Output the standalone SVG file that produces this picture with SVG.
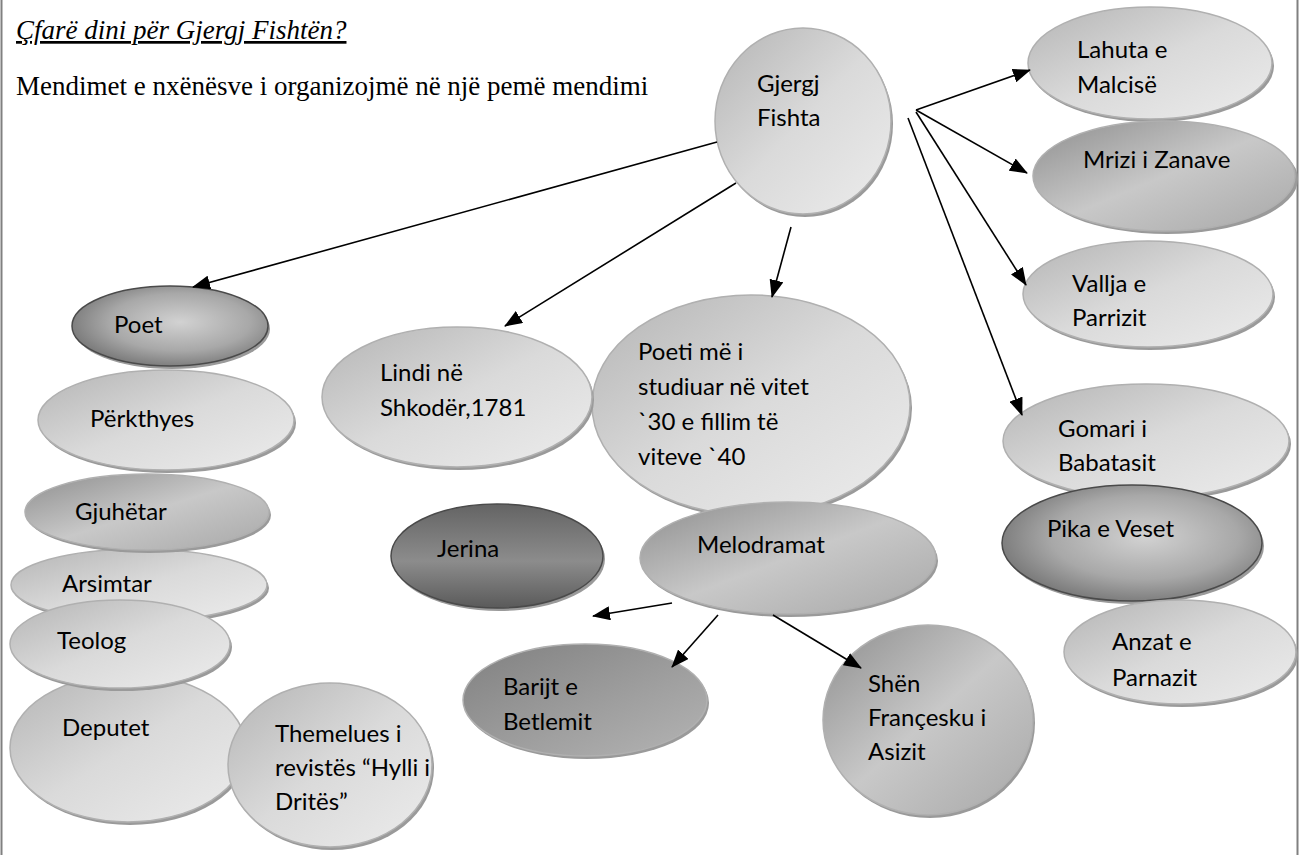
<svg xmlns="http://www.w3.org/2000/svg" width="1299" height="855" viewBox="0 0 1299 855">
<style>
.hd{font-family:"Liberation Serif","Times New Roman",serif;font-size:27px;fill:#000}
.lb{font-family:Lato,"Liberation Sans",sans-serif;font-size:24px;fill:#000}
.sh{fill:#9a9a9a}
.el{stroke:#b0b0b0;stroke-width:1.5}
.dk{stroke:#4a4a4a;stroke-width:1.5}
.cn{stroke:#000;stroke-width:1.6;fill:none;marker-end:url(#ah)}
</style>
<defs>
<linearGradient id="gL" x1="0" y1="0" x2="1" y2="1">
<stop offset="0" stop-color="#b4b4b4"/><stop offset="0.5" stop-color="#dadada"/><stop offset="1" stop-color="#ececec"/>
</linearGradient>
<linearGradient id="gM" x1="0" y1="0" x2="1" y2="1">
<stop offset="0" stop-color="#8e8e8e"/><stop offset="0.5" stop-color="#c8c8c8"/><stop offset="1" stop-color="#a8a8a8"/>
</linearGradient>
<linearGradient id="gB" x1="0" y1="0" x2="1" y2="1">
<stop offset="0" stop-color="#808080"/><stop offset="0.6" stop-color="#a0a0a0"/><stop offset="1" stop-color="#b4b4b4"/>
</linearGradient>
<linearGradient id="gJ" x1="0" y1="0" x2="0" y2="1">
<stop offset="0" stop-color="#646464"/><stop offset="0.55" stop-color="#8c8c8c"/><stop offset="1" stop-color="#5a5a5a"/>
</linearGradient>
<radialGradient id="gR" cx="0.55" cy="0.45" r="0.6">
<stop offset="0" stop-color="#d2d2d2"/><stop offset="0.6" stop-color="#a8a8a8"/><stop offset="1" stop-color="#747474"/>
</radialGradient>
<marker id="ah" markerUnits="userSpaceOnUse" markerWidth="18" markerHeight="14" refX="17" refY="7" orient="auto">
<path d="M0,0 L18,7 L0,14 z" fill="#000"/>
</marker>
</defs>
<rect x="0" y="0" width="1299" height="855" fill="#fff"/>
<line x1="1.5" y1="0" x2="1.5" y2="855" stroke="#808080" stroke-width="2"/>
<line x1="1297.5" y1="0" x2="1297.5" y2="855" stroke="#808080" stroke-width="2"/>

<g id="title">
<text class="hd" x="16" y="39" font-style="italic" text-decoration="underline">Çfarë dini për Gjergj Fishtën?</text>
<text class="hd" x="16" y="95">Mendimet e nxënësve i organizojmë në një pemë mendimi</text>
</g>

<g id="n-gjergj">
<ellipse class="sh" cx="805" cy="124" rx="88" ry="93"/>
<ellipse class="el" cx="803" cy="121" rx="88" ry="93" fill="url(#gL)"/>
<text class="lb" x="757" y="92">Gjergj</text>
<text class="lb" x="757" y="126">Fishta</text>
</g>

<g id="n-lahuta">
<ellipse class="sh" cx="1152" cy="66" rx="122" ry="56"/>
<ellipse class="el" cx="1150" cy="63" rx="122" ry="56" fill="url(#gL)"/>
<text class="lb" x="1077" y="58">Lahuta e</text>
<text class="lb" x="1077" y="93">Malcisë</text>
</g>

<g id="n-mrizi">
<ellipse class="sh" cx="1167" cy="179" rx="131" ry="55"/>
<ellipse class="el" cx="1164" cy="176" rx="131" ry="55" fill="url(#gM)"/>
<text class="lb" x="1083" y="168">Mrizi i Zanave</text>
</g>

<g id="n-vallja">
<ellipse class="sh" cx="1150" cy="297" rx="125" ry="53"/>
<ellipse class="el" cx="1148" cy="294" rx="125" ry="53" fill="url(#gL)"/>
<text class="lb" x="1072" y="292">Vallja e</text>
<text class="lb" x="1072" y="326">Parrizit</text>
</g>

<g id="n-gomari">
<ellipse class="sh" cx="1148" cy="444" rx="143" ry="57"/>
<ellipse class="el" cx="1146" cy="441" rx="143" ry="57" fill="url(#gL)"/>
<text class="lb" x="1058" y="437">Gomari i</text>
<text class="lb" x="1058" y="471">Babatasit</text>
</g>

<g id="n-pika">
<ellipse class="sh" cx="1134" cy="546" rx="130" ry="58"/>
<ellipse class="dk" cx="1132" cy="543" rx="130" ry="58" fill="url(#gR)"/>
<text class="lb" x="1047" y="537">Pika e Veset</text>
</g>

<g id="n-anzat">
<ellipse class="sh" cx="1182" cy="655" rx="116" ry="52"/>
<ellipse class="el" cx="1180" cy="652" rx="116" ry="52" fill="url(#gL)"/>
<text class="lb" x="1112" y="650">Anzat e</text>
<text class="lb" x="1112" y="686">Parnazit</text>
</g>

<g id="n-poet">
<ellipse class="sh" cx="172" cy="329" rx="98" ry="40"/>
<ellipse class="dk" cx="170" cy="326" rx="98" ry="40" fill="url(#gR)"/>
<text class="lb" x="114" y="333">Poet</text>
</g>

<g id="n-perkthyes">
<ellipse class="sh" cx="168" cy="423" rx="128" ry="50"/>
<ellipse class="el" cx="166" cy="420" rx="128" ry="50" fill="url(#gL)"/>
<text class="lb" x="90" y="427">Përkthyes</text>
</g>

<g id="n-arsimtar">
<ellipse class="sh" cx="141" cy="588" rx="128" ry="36"/>
<ellipse class="el" cx="139" cy="585" rx="128" ry="36" fill="url(#gL)"/>
<text class="lb" x="62" y="592">Arsimtar</text>
</g>

<g id="n-gjuhetar">
<ellipse class="sh" cx="149" cy="515" rx="122" ry="38"/>
<ellipse class="el" cx="147" cy="512" rx="122" ry="38" fill="url(#gM)"/>
<text class="lb" x="75" y="520">Gjuhëtar</text>
</g>

<g id="n-deputet">
<ellipse class="sh" cx="130" cy="751" rx="118" ry="74"/>
<ellipse class="el" cx="128" cy="748" rx="118" ry="74" fill="url(#gL)"/>
<text class="lb" x="62" y="736">Deputet</text>
</g>

<g id="n-teolog">
<ellipse class="sh" cx="122" cy="647" rx="110" ry="44"/>
<ellipse class="el" cx="120" cy="644" rx="110" ry="44" fill="url(#gL)"/>
<text class="lb" x="57" y="649">Teolog</text>
</g>

<g id="n-themelues">
<ellipse class="sh" cx="332" cy="768" rx="102" ry="82"/>
<ellipse class="el" cx="330" cy="765" rx="102" ry="82" fill="url(#gL)"/>
<text class="lb" x="275" y="742">Themelues i</text>
<text class="lb" x="275" y="776">revistës “Hylli i</text>
<text class="lb" x="275" y="810">Dritës”</text>
</g>

<g id="n-barijt">
<ellipse class="sh" cx="587" cy="703" rx="122" ry="56"/>
<ellipse class="el" cx="585" cy="700" rx="122" ry="56" fill="url(#gB)"/>
<text class="lb" x="503" y="695">Barijt e</text>
<text class="lb" x="503" y="730">Betlemit</text>
</g>

<g id="n-shen">
<ellipse class="sh" cx="930" cy="723" rx="105" ry="95"/>
<ellipse class="el" cx="928" cy="720" rx="105" ry="95" fill="url(#gM)"/>
<text class="lb" x="868" y="692">Shën</text>
<text class="lb" x="868" y="726">Françesku i</text>
<text class="lb" x="868" y="760">Asizit</text>
</g>

<g id="n-poeti">
<ellipse class="sh" cx="753" cy="408" rx="159" ry="110"/>
<ellipse class="el" cx="751" cy="405" rx="159" ry="110" fill="url(#gL)"/>
<text class="lb" x="638" y="360">Poeti më i</text>
<text class="lb" x="638" y="395">studiuar në vitet</text>
<text class="lb" x="638" y="430">`30 e fillim të</text>
<text class="lb" x="638" y="465">viteve `40</text>
</g>

<g id="n-lindi">
<ellipse class="sh" cx="459" cy="400" rx="135" ry="70"/>
<ellipse class="el" cx="457" cy="397" rx="135" ry="70" fill="url(#gL)"/>
<text class="lb" x="380" y="381">Lindi në</text>
<text class="lb" x="380" y="416">Shkodër,1781</text>
</g>

<g id="n-jerina">
<ellipse class="sh" cx="499" cy="559" rx="106" ry="52"/>
<ellipse class="dk" cx="497" cy="556" rx="106" ry="52" fill="url(#gJ)"/>
<text class="lb" x="437" y="557">Jerina</text>
</g>

<g id="n-melodramat">
<ellipse class="sh" cx="790" cy="561" rx="148" ry="56"/>
<ellipse class="el" cx="788" cy="558" rx="148" ry="56" fill="url(#gM)"/>
<text class="lb" x="697" y="553">Melodramat</text>
</g>

<g id="connectors">
<line class="cn" x1="717" y1="142" x2="193" y2="287"/>
<line class="cn" x1="736" y1="183" x2="505" y2="326"/>
<line class="cn" x1="791" y1="227" x2="772" y2="297"/>
<line class="cn" x1="916" y1="110" x2="1030" y2="70"/>
<line class="cn" x1="916" y1="110" x2="1027" y2="173"/>
<line class="cn" x1="916" y1="112" x2="1026" y2="285"/>
<line class="cn" x1="908" y1="118" x2="1022" y2="415"/>
<line class="cn" x1="672" y1="603" x2="593" y2="616"/>
<line class="cn" x1="718" y1="615" x2="672" y2="667"/>
<line class="cn" x1="773" y1="615" x2="861" y2="668"/>
</g>
</svg>
